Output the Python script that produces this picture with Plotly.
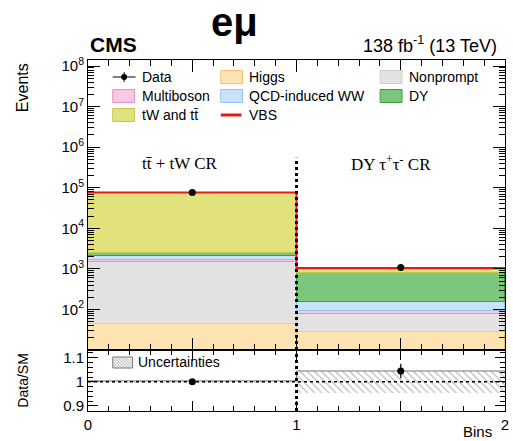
import numpy as np
import plotly.graph_objects as go

# ---- data -------------------------------------------------------------
bin_centers = [0.5, 1.5]
region_labels = ["tt\u0304 + tW CR", "DY \u03c4<sup>+</sup>\u03c4<sup>-</sup> CR"]

higgs = [43, 28]
nonprompt = [1407, 50]
multiboson = [180, 16]
qcd_ww = [500, 57]
dy = [330, 659]
top = [73500, 225]
vbs = [30, 5]

data = [76000, 1087]
ratio_err = [0.004, 0.03]
syst_unc = [0.004, 0.045]

main_tickvals = [1e2, 1e3, 1e4, 1e5, 1e6, 1e7, 1e8]
main_ticktext = ["10<sup>%d</sup>" % k for k in range(2, 9)]
ratio_tickvals = [0.9, 1.0, 1.1]
ratio_ticktext = ["0.9", "1", "1.1"]
x_tickvals = [0, 0.5, 1, 1.5, 2]
x_ticktext = ["0", "", "1", "", "2"]

# ---- styling ----------------------------------------------------------
SANS = "Liberation Sans"
SERIF = "Liberation Serif"
W, H = 513, 441
L, R, T, B = 88, 4, 60, 30
PW, PH = W - L - R, H - T - B
SPLIT = 0.1738  # ratio panel share of the plot height

stack = [
    ("Higgs", higgs, "#FDE3B2", "#F3C36E"),
    ("Nonprompt", nonprompt, "#E2E2E2", "#CDCDCD"),
    ("Multiboson", multiboson, "#F9C8E2", "#EE8EC0"),
    ("QCD-induced WW", qcd_ww, "#C8E2FA", "#93C4EE"),
    ("DY", dy, "#7CC67E", "#3E9F41"),
    ("tW and tt\u0304", top, "#E2E27C", "#C6C64A"),
    ("VBS", vbs, "#E41A1C", "#E41A1C"),
]

total = np.sum([np.array(v, dtype=float) for _, v, _, _ in stack], axis=0)
ratio = np.array(data, dtype=float) / total

fig = go.Figure()

# stacked backgrounds
for name, vals, fill, edge in stack:
    fig.add_trace(go.Bar(
        x=bin_centers, y=vals, width=1.0, name=name,
        marker=dict(color=fill, line=dict(color=edge, width=1)),
        xaxis="x", yaxis="y", showlegend=False,
    ))

# VBS outline on top of the stack
fig.add_trace(go.Scatter(
    x=[0, 1, 2], y=[total[0], total[1], total[1]], mode="lines",
    line=dict(color="#E41A1C", width=2, shape="hv"),
    xaxis="x", yaxis="y", showlegend=False,
))

# data points
fig.add_trace(go.Scatter(
    x=bin_centers, y=data, mode="markers",
    marker=dict(color="black", size=7),
    xaxis="x", yaxis="y", showlegend=False,
))

# ratio panel: uncertainty band (stacked on an invisible base)
fig.add_trace(go.Bar(
    x=bin_centers, y=[1 - u for u in syst_unc], width=1.0,
    marker=dict(color="rgba(0,0,0,0)", line=dict(width=0)),
    xaxis="x2", yaxis="y2", showlegend=False, hoverinfo="skip",
))
fig.add_trace(go.Bar(
    x=bin_centers, y=[2 * u for u in syst_unc], width=1.0,
    marker=dict(color="#6a6a6a",
                pattern=dict(shape="\\", fgcolor="#6f6f6f",
                             bgcolor="rgba(255,255,255,0)", size=5, solidity=0.22),
                line=dict(width=0)),
    xaxis="x2", yaxis="y2", showlegend=False,
))
fig.add_trace(go.Scatter(
    x=[0, 1, 2], y=[1 + syst_unc[0], 1 + syst_unc[1], 1 + syst_unc[1]],
    mode="lines", line=dict(color="#777777", width=1, shape="hv"),
    xaxis="x2", yaxis="y2", showlegend=False,
))
fig.add_trace(go.Scatter(
    x=[0, 2], y=[1, 1], mode="lines",
    line=dict(color="black", width=1.5, dash="dot"),
    xaxis="x2", yaxis="y2", showlegend=False,
))
fig.add_trace(go.Scatter(
    x=bin_centers, y=ratio, mode="markers",
    marker=dict(color="black", size=7),
    error_y=dict(type="data", array=ratio_err, color="black", thickness=1.2, width=0),
    xaxis="x2", yaxis="y2", showlegend=False,
))

# ---- axes -------------------------------------------------------------
common = dict(showline=True, linecolor="black", linewidth=1, mirror="allticks",
              ticks="inside", tickcolor="black", showgrid=False, zeroline=False,
              ticklabeloverflow="allow",
              tickfont=dict(family=SANS, size=15, color="black"))

fig.update_layout(
    barmode="stack",
    bargap=0,
    width=W, height=H,
    margin=dict(l=L, r=R, t=T, b=B),
    paper_bgcolor="white", plot_bgcolor="white",
    xaxis=dict(domain=[0, 1], anchor="y", range=[0, 2],
               tickvals=x_tickvals, showticklabels=False, ticklen=12,
               minor=dict(ticks="inside", dtick=0.1, tick0=0, ticklen=6,
                          tickcolor="black", showgrid=False),
               **common),
    yaxis=dict(domain=[SPLIT, 1], anchor="x", type="log", range=[1, 8.15],
               tickvals=main_tickvals, ticktext=main_ticktext, ticklen=12,
               minor=dict(ticks="inside", dtick="D1", ticklen=6,
                          tickcolor="black", showgrid=False),
               **common),
    xaxis2=dict(domain=[0, 1], anchor="y2", range=[0, 2], matches="x",
                tickvals=x_tickvals, ticktext=x_ticktext, ticklen=10,
                minor=dict(ticks="inside", dtick=0.1, tick0=0, ticklen=5,
                           tickcolor="black", showgrid=False),
                **common),
    yaxis2=dict(domain=[0, SPLIT], anchor="x2", range=[0.879, 1.132],
                tickvals=ratio_tickvals, ticktext=ratio_ticktext, ticklen=10,
                minor=dict(ticks="inside", dtick=0.02, tick0=0.9, ticklen=5,
                           tickcolor="black", showgrid=False),
                **common),
)

# separator between the two control regions
fig.add_shape(type="line", xref="x", yref="y domain", x0=1, x1=1, y0=0, y1=0.663,
              line=dict(color="black", width=3, dash="dot"))
fig.add_shape(type="line", xref="x2", yref="y2 domain", x0=1, x1=1, y0=0, y1=1,
              line=dict(color="black", width=3, dash="dot"))


# ---- text and legend (placed in pixel units) --------------------------
def px(x):
    return (x - L) / PW


def py(y):
    return (H - B - y) / PH


def text(x, y, s, size, xanchor="left", family=SANS, angle=0, yanchor="middle"):
    fig.add_annotation(x=px(x), y=py(y), xref="paper", yref="paper", text=s,
                       showarrow=False, xanchor=xanchor, yanchor=yanchor,
                       textangle=angle,
                       font=dict(family=family, size=size, color="black"))


text(236, 22, "<b>e\u03bc</b>", 40, xanchor="center")
text(88, 44, "<b>CMS</b>", 21)
text(503, 44, "138 fb<sup>-1</sup> (13 TeV)", 18, xanchor="right")
text(181, 163, region_labels[0], 17, xanchor="center", family=SERIF)
text(394, 163, region_labels[1], 17, xanchor="center", family=SERIF)
text(22, 61, "Events", 16, xanchor="center", angle=-90, yanchor="top")
text(22, 381, "Data/SM", 14, xanchor="center", angle=-90)
text(498, 442, "Bins", 15, xanchor="right", yanchor="bottom")


def rect(x0, y0, x1, y1, fill, edge):
    fig.add_shape(type="rect", xref="paper", yref="paper",
                  x0=px(x0), x1=px(x1), y0=py(y1), y1=py(y0),
                  fillcolor=fill, line=dict(color=edge, width=1))


def seg(x0, y0, x1, y1, color, width):
    fig.add_shape(type="line", xref="paper", yref="paper",
                  x0=px(x0), x1=px(x1), y0=py(y0), y1=py(y1),
                  line=dict(color=color, width=width))


cols = [113, 222, 383]
rows = [77, 96, 115]
legend_slots = {
    "Higgs": (1, 0), "Nonprompt": (2, 0), "Multiboson": (0, 1),
    "QCD-induced WW": (1, 1), "DY": (2, 1), "tW and tt\u0304": (0, 2), "VBS": (1, 2),
}
for name, _, fill, edge in stack:
    c, r = legend_slots[name]
    x0, yc = cols[c], rows[r]
    if name == "VBS":
        seg(x0, yc, x0 + 21, yc, "#E41A1C", 3)
    else:
        rect(x0, yc - 6.5, x0 + 22, yc + 6.5, fill, edge)
    text(x0 + 27, yc, name, 14)

# data legend entry
x0, yc = cols[0], rows[0]
seg(x0, yc, x0 + 23, yc, "black", 1)
seg(x0 + 11.5, yc - 5, x0 + 11.5, yc + 5, "black", 1)
fig.add_shape(type="circle", xref="paper", yref="paper",
              x0=px(x0 + 8.5), x1=px(x0 + 14.5), y0=py(yc + 3), y1=py(yc - 3),
              fillcolor="black", line=dict(color="black", width=0))
text(x0 + 27, yc, "Data", 14)

# hatched swatch for the uncertainty band
hx0, hy0, hx1, hy1 = 113, 357, 133, 368
rect(hx0, hy0, hx1, hy1, "white", "#777777")
hw, hh = hx1 - hx0, hy1 - hy0
path = []
for c in range(-hh, hw, 3):
    t_lo, t_hi = max(0, -c), min(hh, hw - c)
    if t_lo < t_hi:
        path.append("M%.4f,%.4f L%.4f,%.4f" % (px(hx0 + c + t_lo), py(hy0 + t_lo),
                                             px(hx0 + c + t_hi), py(hy0 + t_hi)))
fig.add_shape(type="path", xref="paper", yref="paper", path=" ".join(path),
              line=dict(color="#8a8a8a", width=0.8))
text(136, 362, "Uncertainties", 14)

fig.write_html("out.html")
